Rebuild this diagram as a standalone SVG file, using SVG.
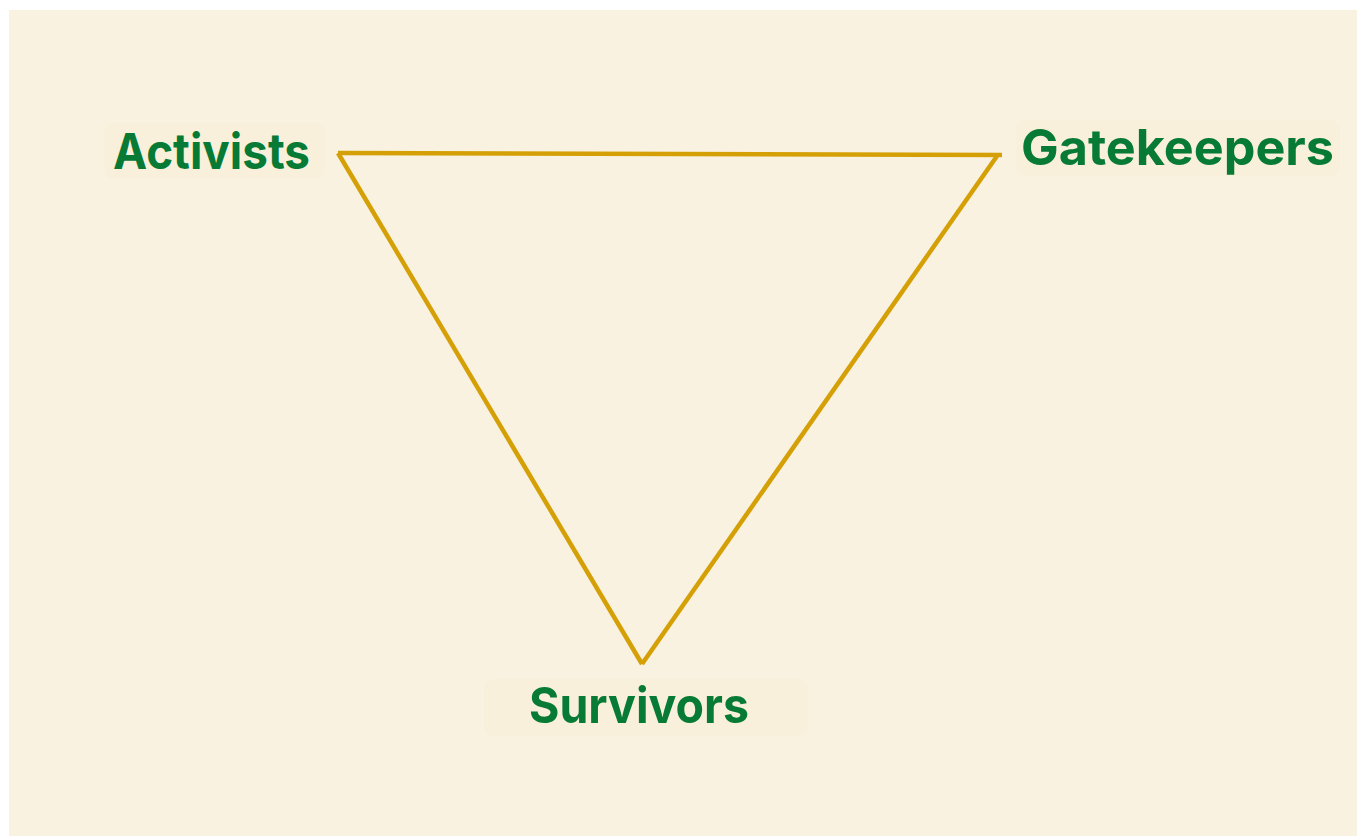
<svg xmlns="http://www.w3.org/2000/svg" width="1357" height="838" viewBox="0 0 1357 838">
<style>
.bg{fill:#FAF2E0}
.box{fill:#F8F0DA}
.lbl{font-family:Inter,"Liberation Sans",sans-serif;font-weight:700;font-size:50px;fill:#077A36}
.edge{stroke:#D4A006;stroke-width:4.5;fill:none;stroke-linecap:butt;stroke-linejoin:miter}
</style>
<rect x="0" y="0" width="1357" height="838" fill="#FFFFFF"/>
<rect class="bg" x="9" y="10" width="1348" height="826"/>
<g id="connectors">
<line class="edge" x1="338" y1="153" x2="1002" y2="155"/>
<line class="edge" x1="997" y1="156" x2="642" y2="664"/>
<line class="edge" x1="338" y1="153" x2="642" y2="664"/>
</g>
<g id="activists">
<rect class="box" x="104" y="123" width="221" height="56" rx="9"/>
<text class="lbl" x="113" y="169" textLength="197" lengthAdjust="spacingAndGlyphs">Activists</text>
</g>
<g id="gatekeepers">
<rect class="box" x="1016" y="120" width="324" height="56" rx="9"/>
<text class="lbl" x="1021" y="165" textLength="313" lengthAdjust="spacingAndGlyphs">Gatekeepers</text>
</g>
<g id="survivors">
<rect class="box" x="484" y="679" width="324" height="57" rx="9"/>
<text class="lbl" x="529" y="723" textLength="220" lengthAdjust="spacingAndGlyphs">Survivors</text>
</g>
</svg>
